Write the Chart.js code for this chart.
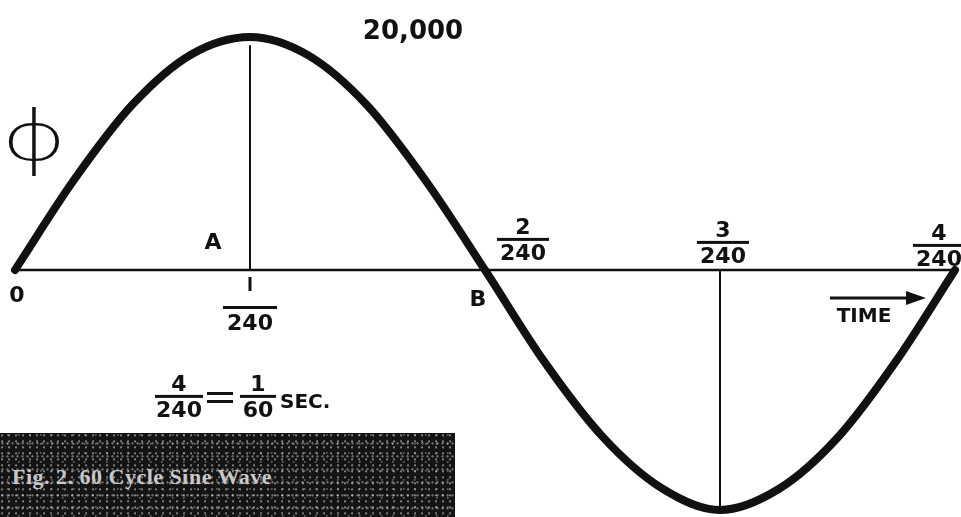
<!DOCTYPE html>
<html>
<head>
<meta charset="utf-8">
<script src="https://cdn.jsdelivr.net/npm/chart.js@4"></script>
<style>
	body { margin: 0; background: #fff; }
	#wrap { position: relative; width: 961px; height: 517px; }
	#caption {
		position: absolute; left: 0; top: 433px; width: 455px; height: 84px;
		background-color: #141414;
		background-image:
			radial-gradient(circle at 30% 40%, rgba(255,255,255,0.45) 0.8px, transparent 1.4px),
			radial-gradient(circle at 70% 20%, rgba(255,255,255,0.3) 0.7px, transparent 1.3px),
			radial-gradient(circle at 50% 80%, rgba(255,255,255,0.35) 0.9px, transparent 1.5px);
		background-size: 7px 6px, 11px 9px, 5px 13px;
		color: #c8c8c8;
		font: bold 22px "Liberation Serif", serif;
		box-sizing: border-box; padding: 31px 0 0 12px;
		letter-spacing: 0.5px;
	}
</style>
</head>
<body>
<div id="wrap">
	<canvas id="myChart" width="961" height="517"></canvas>
	<div id="caption">Fig. 2. 60 Cycle Sine Wave</div>
</div>
<script>
// time in 1/240 sec steps, flux values in lines
const times = [0, 0.25, 0.5, 0.75, 1, 1.25, 1.5, 1.75, 2, 2.25, 2.5, 2.75, 3, 3.25, 3.5, 3.75, 4];
const flux = [0, 7700, 14200, 18500, 20000, 18400, 14100, 7600, 0, -7800, -14300, -18700, -20600, -18800, -14400, -7800, 0];
const tickNums = ['1', '2', '3', '4'];
const peakLabel = '20,000';

const ink = '#111';
const boldFont = '"DejaVu Sans", sans-serif';

// fraction like 2/240 : numerator, bar, denominator
function fraction(ctx, num, den, cx, topY, size, barW) {
	ctx.font = `bold ${size}px ${boldFont}`;
	ctx.textAlign = 'center';
	ctx.textBaseline = 'alphabetic';
	ctx.fillText(num, cx, topY + size * 0.78);
	ctx.fillRect(cx - barW / 2, topY + size * 0.95, barW, 3);
	ctx.fillText(den, cx, topY + size * 1.95);
}

const labelPlugin = {
	id: 'labels',
	afterDatasetsDraw(chart) {
		const ctx = chart.ctx;
		const xs = chart.scales.x;
		const ys = chart.scales.y;
		const px = v => xs.getPixelForValue(v);
		const py = v => ys.getPixelForValue(v);
		const y0 = py(0);
		ctx.save();
		ctx.fillStyle = ink;
		ctx.strokeStyle = ink;

		ctx.font = `bold 26px ${boldFont}`;
		ctx.textAlign = 'center';
		ctx.textBaseline = 'alphabetic';
		ctx.fillText(peakLabel, 413, 39);

		// phi symbol, thin and a bit wider than the font
		ctx.save();
		ctx.translate(34, 160);
		ctx.scale(1.45, 1.1);
		ctx.font = `200 64px "Noto Sans", sans-serif`;
		ctx.fillText('ϕ', 0, 0);
		ctx.restore();

		ctx.font = `bold 22px ${boldFont}`;
		ctx.fillText('A', 213, 249);
		ctx.fillText('0', px(0) + 2, y0 + 32);
		ctx.fillText('B', px(2) - 7, y0 + 36);

		// 1/240 under the axis
		ctx.fillRect(px(1) - 1.5, y0 + 7, 3, 14);
		ctx.fillRect(px(1) - 27, y0 + 36, 54, 3);
		ctx.font = `bold 22px ${boldFont}`;
		ctx.fillText('240', px(1), y0 + 60);

		fraction(ctx, tickNums[1], '240', px(2) + 38, y0 - 53, 22, 52);
		fraction(ctx, tickNums[2], '240', px(3) + 3, y0 - 50, 22, 52);
		fraction(ctx, tickNums[3], '240', px(4) - 16, y0 - 47, 22, 52);

		// TIME with arrow
		ctx.font = `bold 20px ${boldFont}`;
		ctx.fillText('TIME', 864, y0 + 52);
		ctx.lineWidth = 3;
		ctx.beginPath();
		ctx.moveTo(830, y0 + 28);
		ctx.lineTo(910, y0 + 28);
		ctx.stroke();
		ctx.beginPath();
		ctx.moveTo(926, y0 + 28);
		ctx.lineTo(906, y0 + 21);
		ctx.lineTo(906, y0 + 35);
		ctx.closePath();
		ctx.fill();

		// 4/240 = 1/60 SEC.
		fraction(ctx, '4', '240', 179, 374, 22, 48);
		ctx.fillRect(207, 392, 26, 3);
		ctx.fillRect(207, 400, 26, 3);
		fraction(ctx, '1', '60', 258, 374, 22, 36);
		ctx.textAlign = 'left';
		ctx.font = `bold 20px ${boldFont}`;
		ctx.fillText('SEC.', 280, 408);
		ctx.restore();
	},
};

const points = times.map((t, i) => ({ x: t, y: flux[i] }));

const data = {
	datasets: [
		{
			data: points,
			borderColor: ink,
			borderWidth: 8,
			pointRadius: 0,
			cubicInterpolationMode: 'monotone',
			borderCapStyle: 'round',
		},
		{
			// time axis
			data: [{ x: times[0], y: 0 }, { x: times[times.length - 1], y: 0 }],
			borderColor: ink,
			borderWidth: 2.5,
			pointRadius: 0,
		},
		{
			// drop line at 1/240
			data: [{ x: 1, y: 0 }, { x: 1, y: 19300 }],
			borderColor: ink,
			borderWidth: 2,
			pointRadius: 0,
		},
		{
			// drop line at 3/240
			data: [{ x: 3, y: 0 }, { x: 3, y: -20300 }],
			borderColor: ink,
			borderWidth: 2,
			pointRadius: 0,
		},
	],
};

const config = {
	type: 'line',
	data: data,
	options: {
		responsive: false,
		animation: false,
		clip: false,
		layout: { padding: { left: 15, right: 6, top: 37, bottom: 14 } },
		plugins: { legend: { display: false }, tooltip: { enabled: false } },
		scales: {
			x: { type: 'linear', min: 0, max: 4, display: false },
			y: { min: -20000, max: 20000, display: false },
		},
	},
	plugins: [labelPlugin],
};
const myChart = new Chart(document.getElementById('myChart'), config);
</script>
</body>
</html>
